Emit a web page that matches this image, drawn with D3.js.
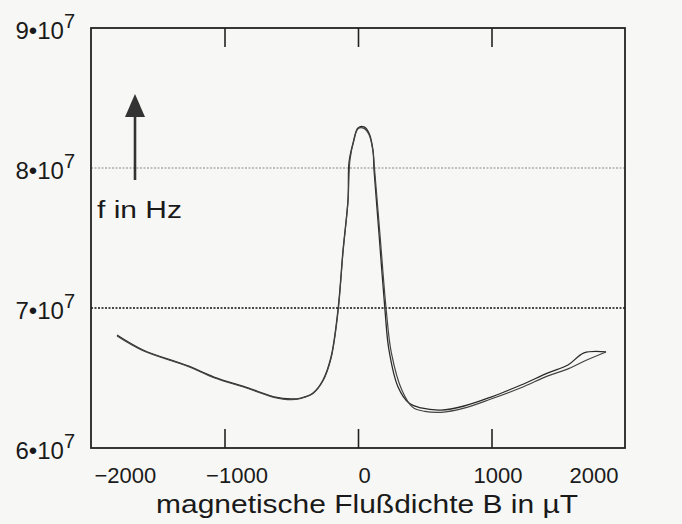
<!DOCTYPE html>
<html>
<head>
<meta charset="utf-8">
<script src="https://cdn.jsdelivr.net/npm/d3@7"></script>
<style>
  body { margin: 0; background: #f7f7f5; }
  svg { display: block; font-family: "Liberation Sans", Arial, sans-serif; }
</style>
</head>
<body>
<div id="chart"></div>
<script>
// B in uT, f in units of 1e7 Hz
var bUp = [-1805, -1610, -1273, -1079, -824, -629, -502, -427, -337, -262, -202, -150, -112, -75, -67, -37, 0, 45, 82, 112, 120, 157, 202, 232, 300, 382, 472, 622, 794, 996, 1221, 1423, 1573, 1693, 1858];
var fUp = [6.807, 6.70, 6.586, 6.507, 6.429, 6.366, 6.35, 6.357, 6.393, 6.486, 6.65, 6.986, 7.414, 7.771, 8.043, 8.179, 8.286, 8.293, 8.25, 8.129, 7.986, 7.536, 6.986, 6.70, 6.436, 6.321, 6.286, 6.271, 6.30, 6.364, 6.45, 6.536, 6.593, 6.679, 6.686];

var bDown = [-1805, -1610, -1273, -1079, -824, -629, -502, -427, -337, -262, -202, -150, -112, -75, -60, -30, 0, 40, 82, 112, 125, 165, 212, 250, 330, 410, 500, 622, 794, 996, 1221, 1423, 1573, 1693, 1858];
var fDown = [6.80, 6.695, 6.583, 6.502, 6.425, 6.362, 6.345, 6.355, 6.39, 6.48, 6.64, 6.97, 7.40, 7.76, 8.06, 8.20, 8.28, 8.285, 8.24, 8.12, 7.98, 7.52, 6.98, 6.68, 6.41, 6.29, 6.262, 6.255, 6.285, 6.35, 6.43, 6.515, 6.565, 6.62, 6.686];

var xTicks = [-2000, -1000, 0, 1000, 2000];
var xInnerTicks = [-1000, 0, 1000];
var yTicks = [6, 7, 8, 9];
var gridLines = [7, 8];

var W = 682, H = 524;
var margin = { top: 28, right: 57, bottom: 76, left: 91 },
    width = W - margin.left - margin.right,
    height = H - margin.top - margin.bottom;

var svg = d3.select("#chart").append("svg")
    .attr("width", W)
    .attr("height", H);

var g = svg.append("g")
    .attr("transform", "translate(" + margin.left + "," + margin.top + ")");

var x = d3.scaleLinear().domain([-2000, 2000]).range([0, width]);
var y = d3.scaleLinear().domain([6, 9]).range([height, 0]);

// dotted gridlines
g.selectAll(".grid").data(gridLines).enter().append("line")
    .attr("x1", 0).attr("x2", width)
    .attr("y1", function(d) { return y(d); })
    .attr("y2", function(d) { return y(d); })
    .attr("stroke", function(d) { return d == 8 ? "#888" : "#111"; })
    .attr("stroke-width", function(d) { return d == 8 ? 1.1 : 1.5; })
    .attr("stroke-dasharray", "2,1.5");

// inner ticks bottom and top
function tickStyle(s) {
  s.select(".domain").remove();
  s.selectAll("line").attr("stroke", "#222").attr("stroke-width", 1.6);
}
g.append("g")
    .attr("transform", "translate(0," + height + ")")
    .call(d3.axisTop(x).tickValues(xInnerTicks).tickSize(19).tickFormat(""))
    .call(tickStyle);
g.append("g")
    .call(d3.axisBottom(x).tickValues(xInnerTicks).tickSize(19).tickFormat(""))
    .call(tickStyle);

// x tick labels
var xl = g.append("g")
    .attr("transform", "translate(0," + height + ")")
    .call(d3.axisBottom(x).tickValues(xTicks).tickSize(0).tickPadding(19)
      .tickFormat(function(d) { return d < 0 ? "\u2212" + Math.abs(d) : d; }));
xl.select(".domain").remove();
xl.selectAll("text")
    .attr("font-size", 22)
    .attr("font-family", "Liberation Sans, Arial, sans-serif")
    .attr("fill", "#1a1a1a")
    .attr("text-anchor", function(d) { return d == -2000 ? "start" : d == 2000 ? "end" : "middle"; })
    .attr("dx", function(d) { return d == -2000 ? 3 : d == 2000 ? -7 : (d == -1000 ? 12 : 6); });

// y tick labels  (a·10^7)
var yl = g.selectAll(".ylab").data(yTicks).enter().append("text")
    .attr("x", -16)
    .attr("y", function(d) { return y(d) + 11; })
    .attr("text-anchor", "end")
    .attr("fill", "#1a1a1a")
    .attr("font-size", 24);
yl.append("tspan").text(function(d) { return d + "\u202210"; });
yl.append("tspan").attr("dy", -11).attr("font-size", 20).text("7");

// curves
var line = d3.line()
    .x(function(d) { return x(d[0]); })
    .y(function(d) { return y(d[1]); })
    .curve(d3.curveCatmullRom.alpha(0.5));

g.append("path")
    .datum(d3.zip(bUp, fUp))
    .attr("fill", "none")
    .attr("stroke", "#2a2a2a")
    .attr("stroke-width", 1.3)
    .attr("d", line);
g.append("path")
    .datum(d3.zip(bDown, fDown))
    .attr("fill", "none")
    .attr("stroke", "#444")
    .attr("stroke-width", 1.2)
    .attr("d", line);

// frame
g.append("rect")
    .attr("width", width).attr("height", height)
    .attr("fill", "none")
    .attr("stroke", "#222")
    .attr("stroke-width", 1.8);

// arrow + f in Hz
var ax = 44;
g.append("line")
    .attr("x1", ax).attr("x2", ax)
    .attr("y1", 152).attr("y2", 86)
    .attr("stroke", "#333").attr("stroke-width", 2.6);
g.append("path")
    .attr("d", "M" + ax + ",66 L" + (ax - 10) + ",89 L" + (ax + 10) + ",89 Z")
    .attr("fill", "#333");
g.append("text")
    .attr("x", 6).attr("y", 190)
    .attr("font-size", 23)
    .attr("textLength", 85)
    .attr("lengthAdjust", "spacingAndGlyphs")
    .attr("fill", "#1a1a1a")
    .text("f in Hz");

// x axis title
svg.append("text")
    .attr("x", 156)
    .attr("y", 513)
    .attr("font-size", 26)
    .attr("textLength", 422)
    .attr("lengthAdjust", "spacingAndGlyphs")
    .attr("fill", "#1a1a1a")
    .text("magnetische Flu\u00dfdichte B in \u00b5T");
</script>
</body>
</html>
